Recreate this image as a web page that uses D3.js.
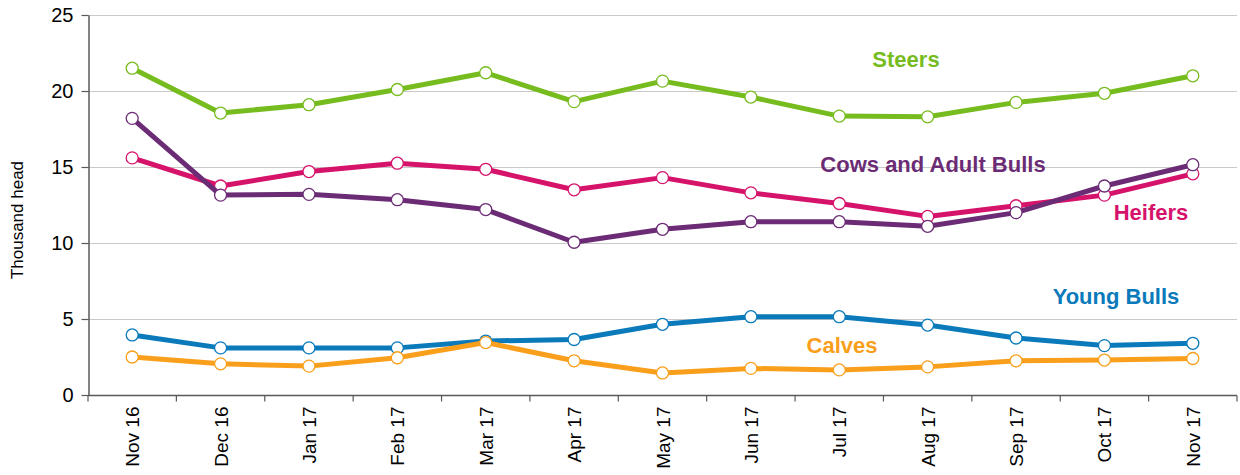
<!DOCTYPE html>
<html>
<head>
<meta charset="utf-8">
<script src="https://cdn.jsdelivr.net/npm/d3@7.9.0/dist/d3.min.js"></script>
<style>
  body { margin: 0; background: #fff; }
  svg { display: block; font-family: Arial, "Liberation Sans", sans-serif; }
</style>
</head>
<body>
<svg id="chart" width="1240" height="475"></svg>
<script>
// months along the x axis
const months = ["Nov 16", "Dec 16", "Jan 17", "Feb 17", "Mar 17", "Apr 17", "May 17",
  "Jun 17", "Jul 17", "Aug 17", "Sep 17", "Oct 17", "Nov 17"];

// thousand head
const steers      = [21.5, 18.55, 19.1, 20.1, 21.2, 19.3, 20.65, 19.6, 18.35, 18.3, 19.25, 19.85, 21.0];
const cowsBulls   = [18.2, 13.15, 13.2, 12.85, 12.2, 10.05, 10.9, 11.4, 11.4, 11.1, 12.0, 13.75, 15.15];
const heifers     = [15.6, 13.75, 14.7, 15.25, 14.85, 13.5, 14.3, 13.3, 12.6, 11.75, 12.45, 13.15, 14.55];
const youngBulls  = [3.95, 3.1, 3.1, 3.1, 3.55, 3.65, 4.65, 5.15, 5.15, 4.6, 3.75, 3.25, 3.4];
const calves      = [2.5, 2.05, 1.9, 2.45, 3.45, 2.25, 1.45, 1.75, 1.65, 1.85, 2.25, 2.3, 2.4];

const yTicks = [0, 5, 10, 15, 20, 25];

// drawing order (back to front) and label placement
const series = [
  { name: "Young Bulls", values: youngBulls, color: "#0a7abb", lx: 1116, ly: 304 },
  { name: "Calves", values: calves, color: "#f99f1c", lx: 842, ly: 353 },
  { name: "Heifers", values: heifers, color: "#d6136b", lx: 1151, ly: 220 },
  { name: "Cows and Adult Bulls", values: cowsBulls, color: "#6b2c75", lx: 933, ly: 172 },
  { name: "Steers", values: steers, color: "#77bc1f", lx: 906, ly: 67 }
];

const svg = d3.select("#chart");
const m = { left: 88, right: 1237, top: 15, bottom: 395 };

const x = d3.scaleBand().domain(months).range([m.left, m.right]).padding(0);
const y = d3.scaleLinear().domain([0, 25]).range([m.bottom, m.top]);
const cx = d => x(d) + x.bandwidth() / 2;

// grid
svg.append("g")
  .selectAll("line")
  .data(yTicks.filter(t => t > 0))
  .join("line")
  .attr("x1", m.left).attr("x2", m.right)
  .attr("y1", d => y(d) + 0.5).attr("y2", d => y(d) + 0.5)
  .attr("stroke", "#c9c9c9").attr("stroke-width", 1);

// y axis
const yAxis = svg.append("g")
  .attr("transform", `translate(${m.left + 0.5},0)`)
  .call(d3.axisLeft(y).tickValues(yTicks).tickSize(7).tickPadding(8).tickSizeOuter(0));
yAxis.select(".domain").attr("stroke", "#595959").attr("stroke-width", 1.5);
yAxis.selectAll(".tick line").attr("stroke", "#595959").attr("stroke-width", 1.2);
yAxis.selectAll(".tick text").attr("font-size", 20).attr("fill", "#000")
  .attr("font-family", "Arial, 'Liberation Sans', sans-serif");

// x axis: ticks at band edges
const xg = svg.append("g").attr("transform", `translate(0,${m.bottom + 0.5})`);
xg.append("line").attr("x1", m.left).attr("x2", m.right).attr("stroke", "#595959").attr("stroke-width", 1.5);
xg.selectAll(".xt")
  .data(months.map(d => x(d) + x.bandwidth()).concat([m.left]))
  .join("line")
  .attr("class", "xt")
  .attr("x1", d => d).attr("x2", d => d)
  .attr("y1", 0).attr("y2", 6)
  .attr("stroke", "#595959").attr("stroke-width", 1.2);
xg.selectAll("text")
  .data(months)
  .join("text")
  .attr("transform", d => `translate(${cx(d) + 7},11) rotate(-90)`)
  .attr("text-anchor", "end")
  .attr("font-size", 19)
  .attr("fill", "#000")
  .text(d => d);

// y title
svg.append("text")
  .attr("transform", "translate(23,220) rotate(-90)")
  .attr("text-anchor", "middle")
  .attr("font-size", 17)
  .attr("fill", "#000")
  .text("Thousand head");

// series
const line = d3.line().x((d, i) => cx(months[i])).y(d => y(d));

series.forEach(s => {
  const g = svg.append("g");
  g.append("path")
    .datum(s.values)
    .attr("d", line)
    .attr("fill", "none")
    .attr("stroke", s.color)
    .attr("stroke-width", 5)
    .attr("stroke-linejoin", "round");
  g.selectAll("circle")
    .data(s.values)
    .join("circle")
    .attr("cx", (d, i) => cx(months[i]))
    .attr("cy", d => y(d))
    .attr("r", 6)
    .attr("fill", "#fff")
    .attr("stroke", s.color)
    .attr("stroke-width", 1.3);
});

// series labels
series.forEach(s => {
  svg.append("text")
    .attr("x", s.lx).attr("y", s.ly)
    .attr("text-anchor", "middle")
    .attr("font-size", 22)
    .attr("font-weight", "bold")
    .attr("fill", s.color)
    .text(s.name);
});
</script>
</body>
</html>
